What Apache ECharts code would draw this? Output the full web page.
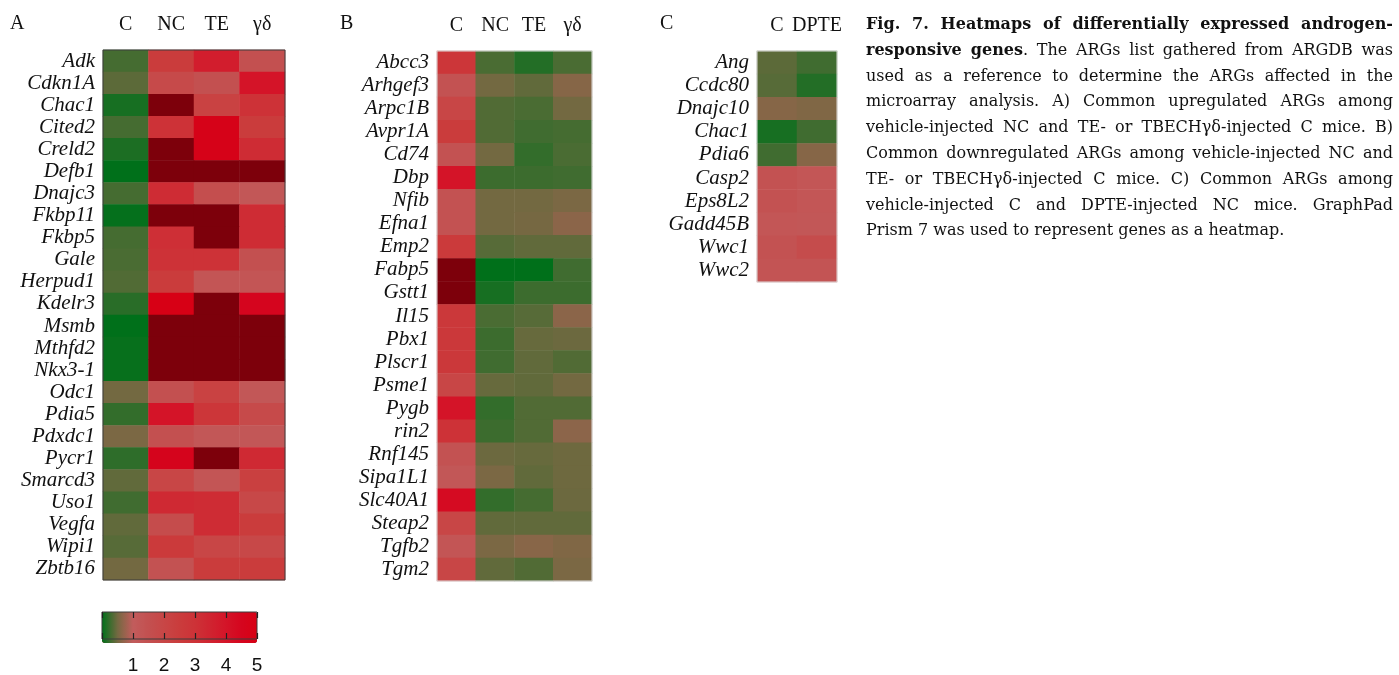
<!DOCTYPE html>
<html>
<head>
    <meta charset="UTF-8">
    <title>ARG heatmaps</title>
    <script src="https://cdn.jsdelivr.net/npm/echarts@6/dist/echarts.min.js"></script>
    <style>
        body { margin: 0; background: #fff; }
        #main { width: 1399px; height: 675px; }
        #caption {
            position: absolute; left: 866px; top: 11px; width: 527px;
            font-family: "DejaVu Serif", serif; font-size: 16px; line-height: 25.8px; color: #111;
        }
        #caption div { text-align: justify; text-align-last: justify; white-space: nowrap; }
        #caption div.last { text-align-last: left; }
    </style>
</head>
<body>
    <div id="main"></div>
    <div id="caption">
        <div><b>Fig. 7. Heatmaps of differentially expressed androgen-</b></div>
        <div><b>responsive genes</b>. The ARGs list gathered from ARGDB was</div>
        <div>used as a reference to determine the ARGs affected in the</div>
        <div>microarray analysis. A) Common upregulated ARGs among</div>
        <div>vehicle-injected NC and TE- or TBECHγδ-injected C mice. B)</div>
        <div>Common downregulated ARGs among vehicle-injected NC and</div>
        <div>TE- or TBECHγδ-injected C mice. C) Common ARGs among</div>
        <div>vehicle-injected C and DPTE-injected NC mice. GraphPad</div>
        <div class="last">Prism 7 was used to represent genes as a heatmap.</div>
    </div>

    <script>
        // panel A: upregulated ARGs (values > 5 are above the scale, drawn dark red)
        var groupsA = ['C', 'NC', 'TE', 'γδ'];
        var genesA = ['Adk', 'Cdkn1A', 'Chac1', 'Cited2', 'Creld2', 'Defb1', 'Dnajc3', 'Fkbp11',
            'Fkbp5', 'Gale', 'Herpud1', 'Kdelr3', 'Msmb', 'Mthfd2', 'Nkx3-1', 'Odc1', 'Pdia5',
            'Pdxdc1', 'Pycr1', 'Smarcd3', 'Uso1', 'Vegfa', 'Wipi1', 'Zbtb16'];
        var valuesA = [
            [0.30, 2.5, 3.7, 1.5],
            [0.40, 1.8, 1.5, 4.0],
            [0.10, 6, 2.2, 3.0],
            [0.30, 3.0, 4.8, 2.5],
            [0.12, 6, 4.8, 3.2],
            [0.00, 6, 6, 6],
            [0.30, 3.2, 1.6, 1.2],
            [0.02, 6, 6, 3.2],
            [0.30, 3.1, 6, 3.2],
            [0.32, 3.0, 3.0, 1.5],
            [0.35, 2.5, 1.3, 1.3],
            [0.18, 4.95, 6, 4.5],
            [0.00, 6, 6, 6],
            [0.03, 6, 6, 6],
            [0.03, 6, 6, 6],
            [0.50, 1.5, 2.2, 1.2],
            [0.22, 4.0, 2.8, 1.8],
            [0.55, 1.5, 1.2, 1.2],
            [0.20, 4.6, 6, 3.3],
            [0.42, 2.0, 1.3, 2.3],
            [0.28, 3.3, 3.2, 1.9],
            [0.42, 1.7, 3.2, 2.5],
            [0.38, 2.6, 2.0, 1.9],
            [0.50, 1.4, 2.5, 2.5]
        ];

        // panel B: downregulated ARGs
        var groupsB = ['C', 'NC', 'TE', 'γδ'];
        var genesB = ['Abcc3', 'Arhgef3', 'Arpc1B', 'Avpr1A', 'Cd74', 'Dbp', 'Nfib', 'Efna1', 'Emp2',
            'Fabp5', 'Gstt1', 'Il15', 'Pbx1', 'Plscr1', 'Psme1', 'Pygb', 'rin2', 'Rnf145', 'Sipa1L1',
            'Slc40A1', 'Steap2', 'Tgfb2', 'Tgm2'];
        var valuesB = [
            [2.8, 0.32, 0.15, 0.32],
            [1.4, 0.50, 0.42, 0.62],
            [2.0, 0.35, 0.32, 0.50],
            [2.5, 0.35, 0.28, 0.30],
            [1.4, 0.50, 0.22, 0.32],
            [4.0, 0.26, 0.26, 0.28],
            [1.4, 0.50, 0.50, 0.55],
            [1.4, 0.50, 0.52, 0.65],
            [2.6, 0.38, 0.42, 0.42],
            [6, 0.00, 0.00, 0.28],
            [6, 0.10, 0.26, 0.26],
            [2.7, 0.32, 0.38, 0.65],
            [2.7, 0.26, 0.45, 0.47],
            [2.7, 0.28, 0.42, 0.35],
            [2.0, 0.45, 0.42, 0.50],
            [4.0, 0.22, 0.35, 0.35],
            [3.0, 0.26, 0.35, 0.66],
            [1.4, 0.47, 0.45, 0.48],
            [1.2, 0.55, 0.42, 0.48],
            [4.3, 0.22, 0.30, 0.47],
            [2.0, 0.42, 0.42, 0.42],
            [1.3, 0.55, 0.63, 0.58],
            [2.0, 0.42, 0.35, 0.55]
        ];

        // panel C: common ARGs, C vs DPTE
        var groupsC = ['C', 'DPTE'];
        var genesC = ['Ang', 'Ccdc80', 'Dnajc10', 'Chac1', 'Pdia6', 'Casp2', 'Eps8L2', 'Gadd45B', 'Wwc1', 'Wwc2'];
        var valuesC = [
            [0.40, 0.28],
            [0.38, 0.15],
            [0.62, 0.58],
            [0.10, 0.28],
            [0.28, 0.62],
            [1.40, 1.25],
            [1.40, 1.25],
            [1.25, 1.20],
            [1.40, 1.70],
            [1.35, 1.35]
        ];

        var scaleMin = 0, scaleMax = 5;
        var scaleTicks = [1, 2, 3, 4, 5];

        function cells(values) {
            var out = [];
            values.forEach(function (row, r) {
                row.forEach(function (v, c) { out.push([c, r, v]); });
            });
            return out;
        }

        var serif = 'Liberation Serif';
        var panels = [
            {groups: groupsA, genes: genesA, values: valuesA, rect: {left: 103, top: 50, width: 182, height: 530}, border: '#3c3c3c'},
            {groups: groupsB, genes: genesB, values: valuesB, rect: {left: 437, top: 51, width: 155, height: 530}, border: '#dcdcdc'},
            {groups: groupsC, genes: genesC, values: valuesC, rect: {left: 757, top: 51, width: 80, height: 231}, border: '#dcdcdc'}
        ];

        var grid = [], xAxis = [], yAxis = [], series = [];
        panels.forEach(function (p, i) {
            grid.push(Object.assign({show: true, borderColor: p.border, borderWidth: 1, backgroundColor: 'transparent', z: 5}, p.rect));
            xAxis.push({
                type: 'category', gridIndex: i, data: p.groups, position: 'top',
                axisLine: {show: false}, axisTick: {show: false}, splitArea: {show: false},
                axisLabel: {fontFamily: serif, fontSize: 20, color: '#111', margin: 15, interval: 0}
            });
            yAxis.push({
                type: 'category', gridIndex: i, data: p.genes, inverse: true,
                axisLine: {show: false}, axisTick: {show: false}, splitArea: {show: false},
                axisLabel: {fontFamily: serif, fontStyle: 'italic', fontSize: 21, color: '#111', margin: 8, interval: 0}
            });
            series.push({
                type: 'heatmap', xAxisIndex: i, yAxisIndex: i, data: cells(p.values),
                itemStyle: {borderWidth: 0}, emphasis: {disabled: true}
            });
        });

        // colour bar frame with its ticks; the gradient itself comes from the visualMap
        grid.push({left: 102, top: 612, width: 155, height: 31, show: true, borderColor: '#3c3c3c', borderWidth: 1, backgroundColor: 'transparent', z: 10});
        var tickStyle = {show: true, inside: true, length: 6, lineStyle: {color: '#222', width: 1.2}};
        xAxis.push({
            type: 'value', gridIndex: 3, min: scaleMin, max: scaleMax, interval: 1, position: 'bottom', z: 10,
            axisLine: {show: false}, axisTick: tickStyle, splitLine: {show: false},
            axisLabel: {
                fontFamily: 'Liberation Sans', fontSize: 19, color: '#111', margin: 17,
                formatter: function (v) { return scaleTicks.indexOf(v) >= 0 ? String(v) : ''; }
            }
        });
        xAxis.push({
            type: 'value', gridIndex: 3, min: scaleMin, max: scaleMax, interval: 1, position: 'top', z: 10,
            axisLine: {show: false}, axisTick: tickStyle, splitLine: {show: false}, axisLabel: {show: false}
        });
        yAxis.push({type: 'value', gridIndex: 3, show: false});

        var chart = echarts.init(document.getElementById('main'), null, {renderer: 'canvas'});
        chart.setOption({
            animation: false,
            backgroundColor: '#fff',
            title: [
                {text: 'A', left: 10, top: 14},
                {text: 'B', left: 340, top: 14},
                {text: 'C', left: 660, top: 14}
            ].map(function (t) {
                t.textStyle = {fontFamily: serif, fontSize: 20, fontWeight: 'normal', color: '#111'};
                t.padding = 0;
                return t;
            }),
            grid: grid,
            xAxis: xAxis,
            yAxis: yAxis,
            visualMap: {
                type: 'continuous', min: scaleMin, max: scaleMax, seriesIndex: [0, 1, 2],
                // a range just short of max makes values above the scale fall out of range
                range: [scaleMin, scaleMax - 1e-6],
                orient: 'horizontal', left: 102, top: 612, itemWidth: 31, itemHeight: 155,
                padding: 0, calculable: false, hoverLink: false, z: 2,
                inRange: {color: ['#00701a', '#736941', '#c25c5c', '#c35050', '#c84646', '#ca3c3c',
                    '#cd3237', '#d02330', '#d41428', '#d5051e', '#d70014']},
                outOfRange: {color: '#7d000b'}
            },
            series: series
        });
    </script>
</body>
</html>
